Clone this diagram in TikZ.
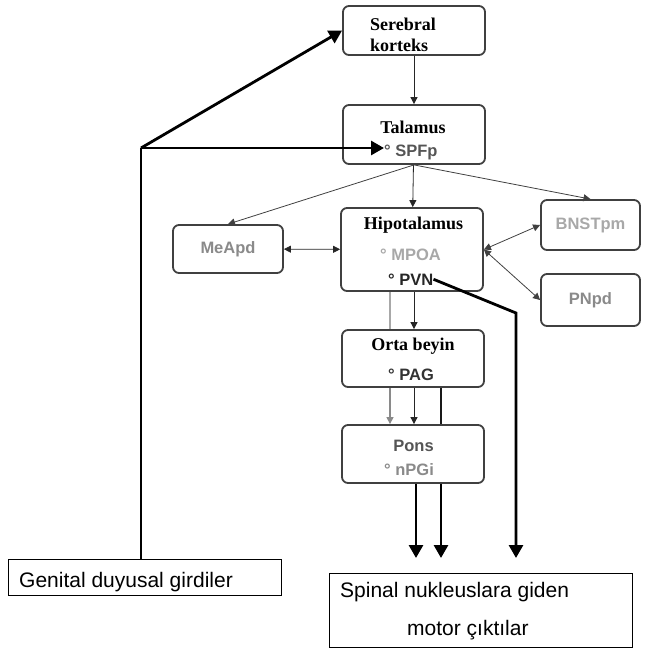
\documentclass[tikz,border=0pt]{standalone}
\usepackage{fontspec}
\setmainfont{Liberation Serif}
\newfontfamily\arial{Liberation Sans}
\usetikzlibrary{arrows.meta}
\definecolor{edge}{HTML}{404040}
\definecolor{lgray}{HTML}{A8A8A8}
\definecolor{mgray}{HTML}{8A8A8A}
\definecolor{dgray}{HTML}{555555}
\begin{document}
\begin{tikzpicture}[x=1pt,y=-1pt,
  region/.style={draw=edge,line width=1.8pt,rounded corners=6pt,fill=white},
  side/.style={region,text=lgray,font=\arial\bfseries\fontsize{16.5}{19}\selectfont},
  plain/.style={draw=black,line width=0.9pt,font=\arial\fontsize{21}{25}\selectfont},
  title/.style={inner sep=0pt,font=\bfseries\fontsize{18}{21}\selectfont},
  sub/.style={inner sep=0pt,anchor=base west,font=\arial\bfseries\fontsize{16.5}{19}\selectfont},
  link/.style={line width=0.8pt,-{Triangle[width=7pt,length=7pt]}},
  twoway/.style={line width=0.8pt,{Triangle[width=7pt,length=7pt]}-{Triangle[width=7pt,length=7pt]}},
  heavy/.style={line width=2.8pt},
  heavyarrow/.style={heavy,-{Triangle[width=14pt,length=13pt]}}]
  \useasboundingbox (0,0) rectangle (645,649);
  \node[region,minimum width=142,minimum height=49] (korteks) at (414,30.5) {};
  \node[region,minimum width=142,minimum height=59] (talamus) at (414,134.5) {};
  \node[region,minimum width=142,minimum height=83] (hipo) at (412,249.5) {};
  \node[region,minimum width=142,minimum height=57] (orta) at (413,358.5) {};
  \node[region,minimum width=142,minimum height=58] (pons) at (413,454) {};
  \node[side,text=mgray,minimum width=110,minimum height=48] (meapd) at (228,249) {MeApd};
  \node[side,minimum width=99,minimum height=50] (bnst) at (590.5,225) {BNSTpm};
  \node[side,text=mgray,minimum width=99,minimum height=52] (pnpd) at (590.5,300) {PNpd};
  \node[plain,minimum width=273,minimum height=36] (gen) at (144.5,577) {};
  \node[plain,minimum width=303,minimum height=74] (spinal) at (480.5,610) {};
  \node[title,align=left,anchor=west] (korteksT) at (370,34.4) {Serebral\\korteks};
  \node[title,anchor=base] (talamusT) at (413,133) {Talamus};
  \node[sub,text=dgray] (spfp) at (384,156) {° SPFp};
  \node[title,anchor=base] (hipoT) at (413.5,229) {Hipotalamus};
  \node[sub,text=lgray] (mpoa) at (380,260) {° MPOA};
  \node[sub,text=black!85] (pvn) at (388,285) {° PVN};
  \node[title,anchor=base] (ortaT) at (413,350) {Orta beyin};
  \node[sub,text=black!80] (pag) at (388,380) {° PAG};
  \node[sub,text=dgray,anchor=base] (ponsT) at (413.5,451) {Pons};
  \node[sub,text=mgray] (npgi) at (384,475) {° nPGi};
  \node[inner sep=0pt,anchor=base west,font=\arial\fontsize{21}{25}\selectfont] (genT) at (19,587) {Genital duyusal girdiler};
  \node[inner sep=0pt,anchor=base west,font=\arial\fontsize{21}{25}\selectfont] (spinalA) at (340,597) {Spinal nukleuslara giden};
  \node[inner sep=0pt,anchor=base west,font=\arial\fontsize{21}{25}\selectfont] (spinalB) at (407,635) {motor çıktılar};
  \coordinate (gcorner) at (141,148);
  \coordinate (pcorner) at (516,313);
  \coordinate (m1) at (416,558);
  \coordinate (m2) at (441,558);
  \coordinate (m3) at (516,558);
  \draw[link,black!85] (korteks) -- (talamus);
  \draw[link,black!85] (talamus) -- (hipo);
  \draw[link,black!85] ([xshift=2pt]hipo.south) -- ([xshift=1pt]orta.north);
  \draw[link,black!85] ([xshift=1pt]orta.south) -- ([xshift=1pt]pons.north);
  \draw[link,edge] (talamus.south) -- (meapd.north);
  \draw[link,edge] (talamus.south) -- (bnst.north);
  \draw[line width=1.2pt,lgray] ([xshift=-22pt]hipo.south) -- ([xshift=-23pt]orta.north);
  \draw[link,mgray,line width=1.2pt] ([xshift=-23pt]orta.south) -- ([xshift=-23pt]pons.north);
  \draw[twoway,black!85] (meapd) -- (hipo);
  \draw[twoway,edge] (hipo.east) -- (bnst.west);
  \draw[twoway,edge] (hipo.east) -- (pnpd.west);
  \draw[heavy,black!90] ([xshift=28pt]orta.south) -- ([xshift=28pt]pons.north);
  \draw[heavyarrow] ([xshift=3pt]pons.south) -- (m1);
  \draw[heavyarrow] ([xshift=28pt]pons.south) -- (m2);
  \draw[heavyarrow] (pvn.east) -- (pcorner) -- (m3);
  \draw[heavy] (gen.north -| gcorner) -- (gcorner);
  \draw[heavyarrow] (gcorner) -- (korteks.west);
  \draw[heavyarrow] (gcorner) -- (gcorner -| spfp.west);
\end{tikzpicture}
\end{document}
